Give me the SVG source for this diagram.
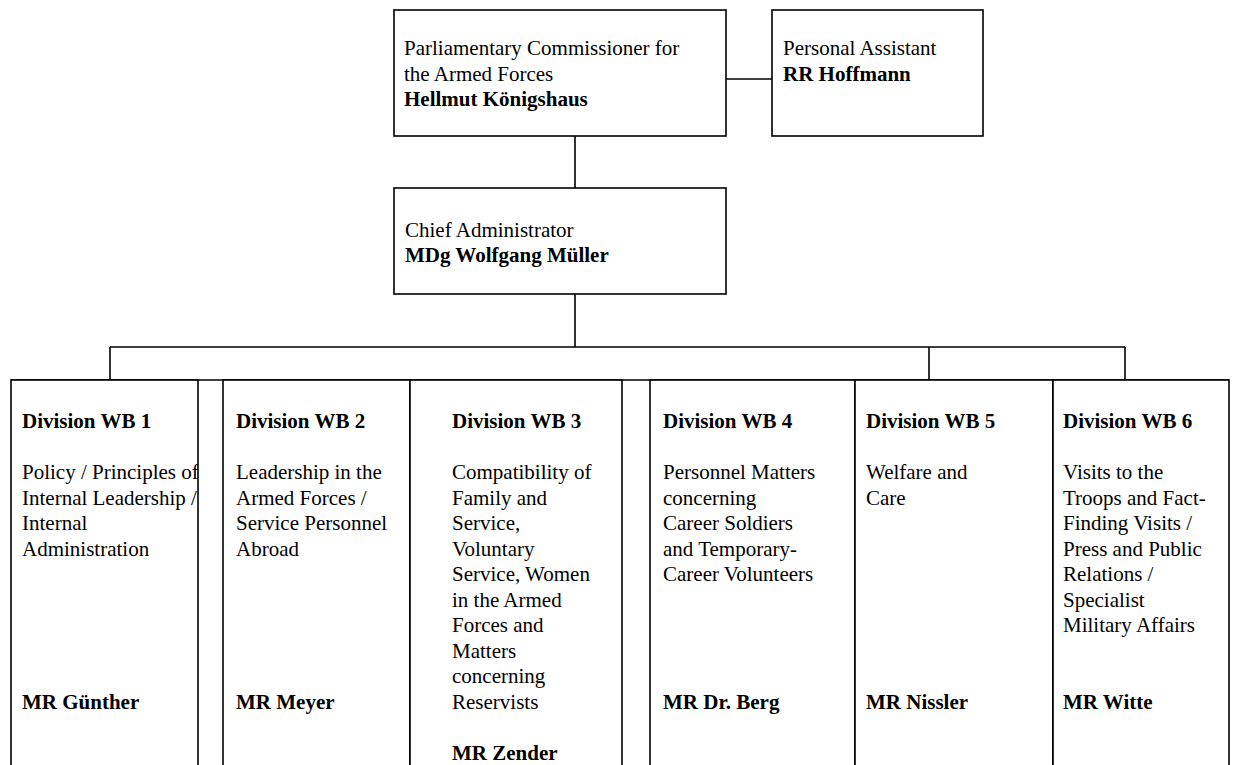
<svg xmlns="http://www.w3.org/2000/svg" width="1234" height="765" viewBox="0 0 1234 765">
<style>
  .box { fill: #ffffff; stroke: #000000; stroke-width: 1.6; }
  .ln { stroke: #000000; stroke-width: 1.6; fill: none; }
  text { font-family: "Liberation Serif", "Times New Roman", serif; font-size: 21px; fill: #000000; }
  .b { font-weight: bold; }
</style>
<defs>
  <clipPath id="c1"><rect x="11" y="380" width="187" height="400"/></clipPath>
  <clipPath id="c2"><rect x="223" y="380" width="187" height="400"/></clipPath>
  <clipPath id="c3"><rect x="410" y="380" width="212" height="400"/></clipPath>
  <clipPath id="c4"><rect x="650" y="380" width="205" height="400"/></clipPath>
  <clipPath id="c5"><rect x="855" y="380" width="198" height="400"/></clipPath>
  <clipPath id="c6"><rect x="1053" y="380" width="176" height="400"/></clipPath>
</defs>
<rect x="0" y="0" width="1234" height="765" fill="#ffffff"/>

<g id="connectors">
  <line class="ln" x1="726" y1="79" x2="772" y2="79"/>
  <line class="ln" x1="575" y1="136" x2="575" y2="188"/>
  <line class="ln" x1="575" y1="294" x2="575" y2="347"/>
  <line class="ln" x1="110" y1="347" x2="1125" y2="347"/>
  <line class="ln" x1="110" y1="347" x2="110" y2="380"/>
  <line class="ln" x1="929" y1="347" x2="929" y2="380"/>
  <line class="ln" x1="1125" y1="347" x2="1125" y2="380"/>
  <line class="ln" x1="11" y1="380" x2="1229" y2="380" stroke-width="2"/>
</g>

<g id="commissioner">
  <rect class="box" x="394" y="10" width="332" height="126"/>
  <text x="404" y="55">Parliamentary Commissioner for</text>
  <text x="404" y="81">the Armed Forces</text>
  <text x="404" y="106" class="b">Hellmut Königshaus</text>
</g>

<g id="assistant">
  <rect class="box" x="772" y="10" width="211" height="126"/>
  <text x="783" y="55">Personal Assistant</text>
  <text x="783" y="81" class="b">RR Hoffmann</text>
</g>

<g id="chief">
  <rect class="box" x="394" y="188" width="332" height="106"/>
  <text x="405" y="237">Chief Administrator</text>
  <text x="405" y="262" class="b">MDg Wolfgang Müller</text>
</g>

<g id="wb1">
  <rect class="box" x="11" y="380" width="187" height="400"/>
  <g clip-path="url(#c1)">
    <text x="22" y="428" class="b">Division WB 1</text>
    <text x="22" y="479">Policy / Principles of</text>
    <text x="22" y="504.5">Internal Leadership /</text>
    <text x="22" y="530">Internal</text>
    <text x="22" y="555.5">Administration</text>
    <text x="22" y="709" class="b">MR Günther</text>
  </g>
</g>

<g id="wb2">
  <rect class="box" x="223" y="380" width="187" height="400"/>
  <g clip-path="url(#c2)">
    <text x="236" y="428" class="b">Division WB 2</text>
    <text x="236" y="479">Leadership in the</text>
    <text x="236" y="504.5">Armed Forces /</text>
    <text x="236" y="530">Service Personnel</text>
    <text x="236" y="555.5">Abroad</text>
    <text x="236" y="709" class="b">MR Meyer</text>
  </g>
</g>

<g id="wb3">
  <rect class="box" x="410" y="380" width="212" height="400"/>
  <g clip-path="url(#c3)">
    <text x="452" y="428" class="b">Division WB 3</text>
    <text x="452" y="479">Compatibility of</text>
    <text x="452" y="504.5">Family and</text>
    <text x="452" y="530">Service,</text>
    <text x="452" y="555.5">Voluntary</text>
    <text x="452" y="581">Service, Women</text>
    <text x="452" y="606.5">in the Armed</text>
    <text x="452" y="632">Forces and</text>
    <text x="452" y="657.5">Matters</text>
    <text x="452" y="683">concerning</text>
    <text x="452" y="708.5">Reservists</text>
    <text x="452" y="760" class="b">MR Zender</text>
  </g>
</g>

<g id="wb4">
  <rect class="box" x="650" y="380" width="205" height="400"/>
  <g clip-path="url(#c4)">
    <text x="663" y="428" class="b">Division WB 4</text>
    <text x="663" y="479">Personnel Matters</text>
    <text x="663" y="504.5">concerning</text>
    <text x="663" y="530">Career Soldiers</text>
    <text x="663" y="555.5">and Temporary-</text>
    <text x="663" y="581">Career Volunteers</text>
    <text x="663" y="709" class="b">MR Dr. Berg</text>
  </g>
</g>

<g id="wb5">
  <rect class="box" x="855" y="380" width="198" height="400"/>
  <g clip-path="url(#c5)">
    <text x="866" y="428" class="b">Division WB 5</text>
    <text x="866" y="479">Welfare and</text>
    <text x="866" y="504.5">Care</text>
    <text x="866" y="709" class="b">MR Nissler</text>
  </g>
</g>

<g id="wb6">
  <rect class="box" x="1053" y="380" width="176" height="400"/>
  <g clip-path="url(#c6)">
    <text x="1063" y="428" class="b">Division WB 6</text>
    <text x="1063" y="479">Visits to the</text>
    <text x="1063" y="504.5">Troops and Fact-</text>
    <text x="1063" y="530">Finding Visits /</text>
    <text x="1063" y="555.5">Press and Public</text>
    <text x="1063" y="581">Relations /</text>
    <text x="1063" y="606.5">Specialist</text>
    <text x="1063" y="632">Military Affairs</text>
    <text x="1063" y="709" class="b">MR Witte</text>
  </g>
</g>
</svg>
